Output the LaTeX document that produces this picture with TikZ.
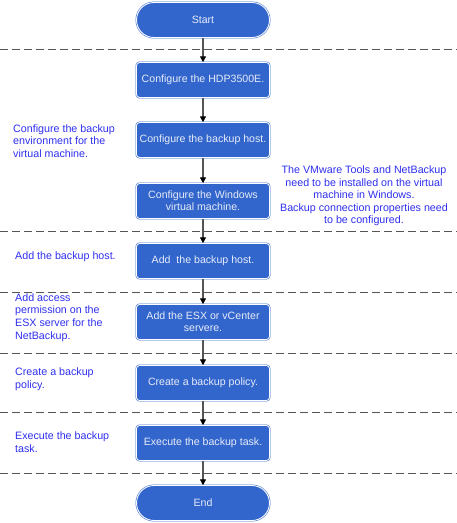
\documentclass[tikz,border=0pt]{standalone}
\usepackage{fontspec}
\setmainfont{Liberation Sans}
\usetikzlibrary{arrows.meta}
\definecolor{boxblue}{HTML}{3366CC}
\definecolor{txtblue}{HTML}{2E2EF0}
\definecolor{boxtext}{HTML}{E6ECF8}
\definecolor{linegray}{HTML}{555555}
\tikzset{
  stepbox/.style={draw=boxblue, double=white, double distance=0.9pt, line width=0.5pt,
    fill=boxblue, rounded corners=3pt, minimum width=133pt, minimum height=35pt,
    inner sep=1pt, align=center, text=boxtext, font=\fontsize{10.6}{12.2}\selectfont},
  termbox/.style={stepbox, rounded corners=17.5pt},
  note/.style={text=txtblue, font=\fontsize{10.7}{12.6}\selectfont, inner sep=0pt},
  sep/.style={draw=linegray, line width=0.8pt, dash pattern=on 8pt off 4pt},
  flow/.style={draw=linegray, line width=1.2pt, -{Triangle[length=6pt,width=6pt,color=black,fill=black]}}
}
\begin{document}
\begin{tikzpicture}[x=1pt,y=-1pt]
\useasboundingbox (0,0) rectangle (457,523);
% separators
\foreach \yy [count=\i] in {49,231,292,353,412,473}{
  \coordinate (sl\i) at (0,\yy);
  \coordinate (sr\i) at (457,\yy);
  \draw[sep] (sl\i) -- (sr\i);
}
% nodes
\node[termbox] (start) at (203,20) {Start};
\node[stepbox] (b1) at (203,80) {Configure the HDP3500E.};
\node[stepbox] (b2) at (203,140) {Configure the backup host.};
\node[stepbox] (b3) at (203,201) {Configure the Windows\\virtual machine.};
\node[stepbox] (b4) at (203,261) {Add\ \ the backup host.};
\node[stepbox] (b5) at (203,322) {Add the ESX or vCenter\\servere.};
\node[stepbox] (b6) at (203,383) {Create a backup policy.};
\node[stepbox] (b7) at (203,443) {Execute the backup task.};
\node[termbox] (end) at (203,503) {End};
% connectors
\draw[flow] (start) -- (b1);
\draw[flow] (b1) -- (b2);
\draw[flow] (b2) -- (b3);
\draw[flow] (b3) -- (b4);
\draw[flow] (b4) -- (b5);
\draw[flow] (b5) -- (b6);
\draw[flow] (b6) -- (b7);
\draw[flow] (b7) -- (end);
% notes
\node[note, anchor=west, align=left] (n1) at (13,141) {Configure the backup\\environment for the\\virtual machine.};
\node[note, align=center] (n2) at (364,196) {The VMware Tools and NetBackup\\need to be installed on the virtual\\machine in Windows.\\Backup connection properties need\\to be configured.};
\node[note, anchor=west, align=left] (n3) at (15,257) {Add the backup host.};
\node[note, anchor=west, align=left] (n4) at (15,317.5) {Add access\\permission on the\\ESX server for the\\NetBackup.};
\node[note, anchor=west, align=left] (n5) at (15,379.5) {Create a backup\\policy.};
\node[note, anchor=west, align=left] (n6) at (15,442) {Execute the backup\\task.};
\end{tikzpicture}
\end{document}
